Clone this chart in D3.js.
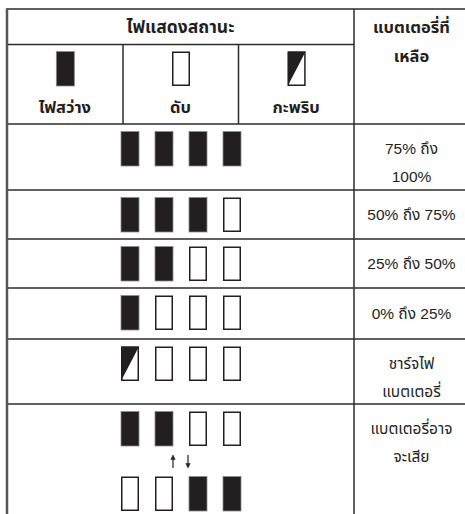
<!DOCTYPE html>
<html><head><meta charset="utf-8">
<script src="https://cdn.jsdelivr.net/npm/d3@7"></script>
<style>
html,body{margin:0;padding:0;background:#fff;}
svg{display:block;}
text{font-family:"Liberation Sans","Noto Sans Thai","Noto Sans",sans-serif;fill:#231f20;}
</style></head>
<body><svg id="c" width="465" height="514"></svg>
<script>
// ---- data ----
const headerTitle = "ไฟแสดงสถานะ";
const headerRemain = ["แบตเตอรี่ที่", "เหลือ"];
const legendStates = ["on", "off", "blink"];
const legendLabels = ["ไฟสว่าง", "ดับ", "กะพริบ"];
const rowLabels = [
  ["75% ถึง", "100%"],
  ["50% ถึง 75%"],
  ["25% ถึง 50%"],
  ["0% ถึง 25%"],
  ["ชาร์จไฟ", "แบตเตอรี่"],
  ["แบตเตอรี่อาจ", "จะเสีย"]
];
const rowLeds = [
  [["on","on","on","on"]],
  [["on","on","on","off"]],
  [["on","on","off","off"]],
  [["on","off","off","off"]],
  [["blink","off","off","off"]],
  [["on","on","off","off"], ["off","off","on","on"]]
];

// ---- layout ----
const svg = d3.select("#c");
const L = 7, C1 = 123, C2 = 238.5, C3 = 354, R = 470;
const top0 = 9, hdr1 = 44.5, hdr2 = 124;
const rowEdges = [124, 190, 239, 288, 339, 404, 530];
const ledW = 18, ledH = 34.5;
const ledX = d3.scaleLinear().domain([0, 3]).range([121, 223]);
const rowY = d3.scaleOrdinal().domain(d3.range(rowLabels.length)).range(rowEdges.slice(0, -1));
const rightCx = 411.5;
const dark = "#231f20";

function led(g, x, y, state) {
  if (state === "on") {
    g.append("rect").attr("x", x).attr("y", y).attr("width", ledW).attr("height", ledH)
      .attr("fill", dark).attr("stroke", "#8a8a8a").attr("stroke-width", 0.8);
  } else if (state === "off") {
    g.append("rect").attr("x", x + 0.75).attr("y", y + 0.75).attr("width", ledW - 1.5).attr("height", ledH - 1.5)
      .attr("fill", "#fff").attr("stroke", dark).attr("stroke-width", 1.5);
  } else {
    g.append("rect").attr("x", x + 0.75).attr("y", y + 0.75).attr("width", ledW - 1.5).attr("height", ledH - 1.5)
      .attr("fill", "#fff").attr("stroke", dark).attr("stroke-width", 1.5);
    g.append("path").attr("d", `M${x},${y}L${x + ledW},${y}L${x},${y + ledH}Z`).attr("fill", dark);
  }
}

// grid lines
const lines = svg.append("g").attr("stroke", "#2b2b2b").attr("stroke-width", 1.5);
lines.append("line").attr("x1", L).attr("x2", R).attr("y1", top0).attr("y2", top0);
lines.append("line").attr("x1", L).attr("x2", C3).attr("y1", hdr1).attr("y2", hdr1);
rowEdges.slice(0, -1).forEach(y => lines.append("line").attr("x1", L).attr("x2", R).attr("y1", y).attr("y2", y));
lines.append("line").attr("x1", C1).attr("x2", C1).attr("y1", hdr1).attr("y2", hdr2);
lines.append("line").attr("x1", C2).attr("x2", C2).attr("y1", hdr1).attr("y2", hdr2);
lines.append("line").attr("x1", C3).attr("x2", C3).attr("y1", top0).attr("y2", 520);
svg.append("line").attr("x1", L).attr("x2", L).attr("y1", top0 - 0.75).attr("y2", 520)
  .attr("stroke", "#555").attr("stroke-width", 2.5);

// header texts
svg.append("text").attr("x", (L + C3) / 2).attr("y", 33).attr("text-anchor", "middle")
  .attr("font-size", 17.5).attr("font-weight", "bold").text(headerTitle);
headerRemain.forEach((t, i) => svg.append("text").attr("x", rightCx).attr("y", 33 + i * 29)
  .attr("text-anchor", "middle").attr("font-size", 16.5).attr("font-weight", "bold").text(t));

// legend
const legX = d3.scaleBand().domain(d3.range(3)).range([L, C3]);
legendStates.forEach((s, i) => {
  const cx = legX(i) + legX.bandwidth() / 2;
  led(svg.append("g"), cx - ledW / 2 + 0.5, 51.5, s);
  svg.append("text").attr("x", cx).attr("y", 113).attr("text-anchor", "middle")
    .attr("font-size", 16.5).attr("font-weight", "bold").text(legendLabels[i]);
});

// rows
rowLeds.forEach((sets, r) => {
  const y0 = rowY(r);
  sets.forEach((set, k) => {
    set.forEach((s, i) => led(svg.append("g"), ledX(i), y0 + 7.5 + k * 65, s));
  });
  if (sets.length > 1) {
    const ay = y0 + 51;
    const ax1 = (ledX(1) + ledX(2) + ledW) / 2 - 8, ax2 = ax1 + 15;
    const ag = svg.append("g").attr("stroke", dark).attr("stroke-width", 1.2).attr("fill", dark);
    ag.append("line").attr("x1", ax1).attr("x2", ax1).attr("y1", ay + 2).attr("y2", ay + 13);
    ag.append("path").attr("d", `M${ax1 - 2.2},${ay + 4.5}L${ax1},${ay}L${ax1 + 2.2},${ay + 4.5}Z`).attr("stroke-width", 0.5);
    ag.append("line").attr("x1", ax2).attr("x2", ax2).attr("y1", ay).attr("y2", ay + 11);
    ag.append("path").attr("d", `M${ax2 - 2.2},${ay + 8.5}L${ax2},${ay + 13}L${ax2 + 2.2},${ay + 8.5}Z`).attr("stroke-width", 0.5);
  }
  const lbl = rowLabels[r];
  const base = lbl.length === 1 ? y0 + (rowEdges[r + 1] - y0) / 2 + 5 : y0 + 30;
  lbl.forEach((t, j) => svg.append("text").attr("x", rightCx).attr("y", base + j * 28)
    .attr("text-anchor", "middle").attr("font-size", 15.5).text(t));
});
</script></body></html>
